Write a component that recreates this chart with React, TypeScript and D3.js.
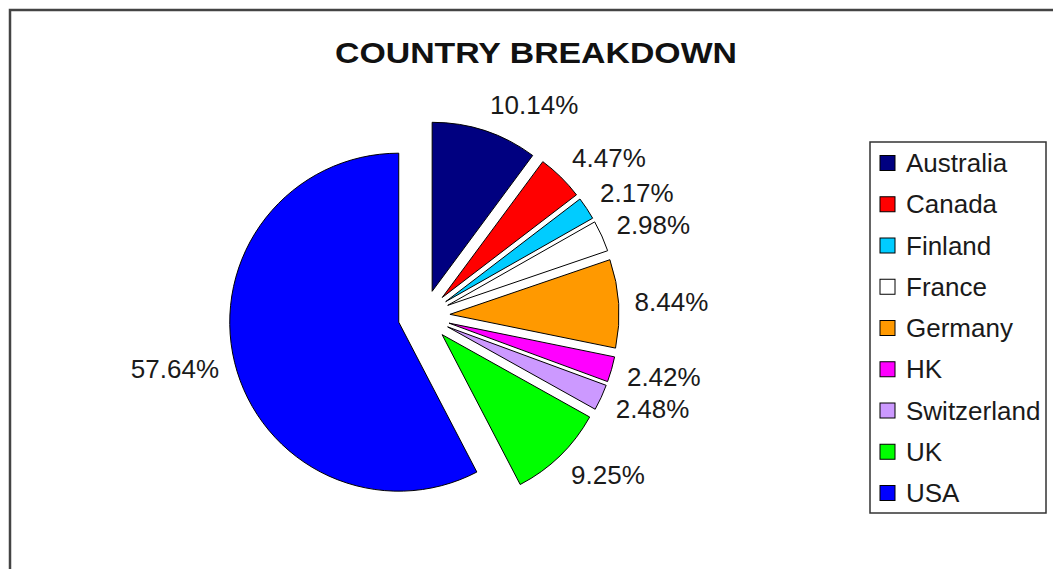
import * as d3 from "d3";

const countries = ["Australia", "Canada", "Finland", "France", "Germany", "HK", "Switzerland", "UK", "USA"];
const shares = [10.14, 4.47, 2.17, 2.98, 8.44, 2.42, 2.48, 9.25, 57.64];
const colors = ["#000080", "#FF0000", "#00CCFF", "#FFFFFF", "#FF9900", "#FF00FF", "#CC99FF", "#00FF00", "#0000FF"];

const W = 1053;
const H = 569;
const cx = 424;
const cy = 316;
const radius = 169;
const explode = 26;
const labelGap = 16;
const FONT = "'Liberation Sans', Arial, sans-serif";

export default function App() {
  const pie = d3
    .pie<number>()
    .sort(null)
    .value((d) => d)
    .startAngle(0)
    .endAngle(2 * Math.PI);
  const arcs = pie(shares);
  const arc = d3.arc<d3.PieArcDatum<number>>().innerRadius(0).outerRadius(radius);

  const legendY = d3
    .scalePoint<string>()
    .domain(countries)
    .range([163, 493]);

  return (
    <svg
      width={W}
      height={H}
      style={{ position: "absolute", left: 0, top: 0, display: "block", background: "#fff" }}
    >
      <rect x={10} y={10} width={W + 20} height={H + 20} fill="#fff" stroke="#444" strokeWidth={2.5} />

      <text
        x={536}
        y={63}
        textAnchor="middle"
        fontFamily={FONT}
        fontWeight="bold"
        fontSize={30}
        textLength={402}
        lengthAdjust="spacingAndGlyphs"
        fill="#111"
      >
        COUNTRY BREAKDOWN
      </text>

      {arcs.map((a, i) => {
        const mid = (a.startAngle + a.endAngle) / 2;
        const dx = Math.sin(mid);
        const dy = -Math.cos(mid);
        const ox = cx + dx * explode;
        const oy = cy + dy * explode;
        const lr = radius + labelGap;
        const lx = ox + dx * lr;
        const ly = oy + dy * lr + dy * 11;
        return (
          <g key={countries[i]}>
            <path
              d={arc(a) ?? ""}
              transform={`translate(${ox},${oy})`}
              fill={colors[i]}
              stroke="#000"
              strokeWidth={1}
            />
            <text
              x={lx}
              y={ly}
              textAnchor={dx >= 0 ? "start" : "end"}
              dominantBaseline="central"
              fontFamily={FONT}
              fontSize={26}
              fill="#1a1a1a"
            >
              {shares[i].toFixed(2)}%
            </text>
          </g>
        );
      })}

      <rect x={870} y={142} width={176} height={371} fill="#fff" stroke="#333" strokeWidth={1.5} />
      {countries.map((c, i) => {
        const y = legendY(c) ?? 0;
        return (
          <g key={c}>
            <rect x={880} y={y - 7.5} width={15} height={15} fill={colors[i]} stroke="#000" strokeWidth={1} />
            <text x={906} y={y} dominantBaseline="central" fontFamily={FONT} fontSize={26} fill="#1a1a1a">
              {c}
            </text>
          </g>
        );
      })}
    </svg>
  );
}
